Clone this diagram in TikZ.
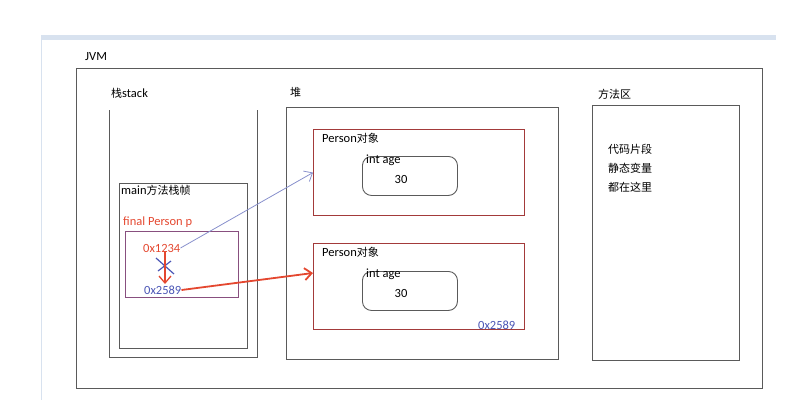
\documentclass[tikz,border=0pt]{standalone}
\usepackage{fontspec}
\setmainfont{Carlito}
\newfontfamily\cjk[Scale=0.88]{Noto Sans CJK SC}
\usetikzlibrary{arrows.meta,positioning}
\definecolor{frame}{HTML}{5A5A5A}
\definecolor{objred}{HTML}{A33A3A}
\definecolor{addrred}{HTML}{E4472F}
\definecolor{addrblue}{HTML}{4A55B5}
\definecolor{refblue}{HTML}{8890CC}
\definecolor{barblue}{HTML}{D8E2EF}
\tikzset{
  box/.style={draw=frame, line width=0.9pt},
  objbox/.style={draw=objred, line width=1.1pt, anchor=north west, inner sep=0pt,
    minimum width=211pt, minimum height=86pt},
  field/.style={draw=frame, line width=0.9pt, rounded corners=9pt, anchor=north west,
    inner sep=0pt, minimum width=95pt, minimum height=39pt},
  lbl/.style={anchor=west, inner sep=0pt, font=\fontsize{12.5}{14}\selectfont},
  barb/.style={-{Straight Barb[length=7pt,width=12pt]}},
}
\begin{document}
\begin{tikzpicture}[x=1pt,y=-1pt]
\useasboundingbox (0,0) rectangle (800,400);
% window edge
\fill[barblue] (41,35) rectangle (776,40);
\draw[barblue, line width=1pt] (41,35) -- (41,400);
\node[lbl] (jvm) at (85,57) {JVM};
\draw[box] (76,68) rectangle (762,388);
% stack
\node[lbl] (stacklbl) at (111,93) {{\cjk 栈}stack};
\draw[box] (109,110) -- (109,357) -- (257,357) -- (257,110);
\draw[box] (119,183) rectangle (247,348);
\node[lbl] (framelbl) at (121,190) {main{\cjk 方法栈帧}};
\node[lbl, text=addrred] (pvar) at (123,222) {final Person p};
\draw[draw=addrblue!60!addrred, line width=0.9pt] (125,231) rectangle (238,297);
\node[lbl, text=addrred] (old) at (143,248) {0x1234};
\node[lbl, text=addrblue] (new) at (144,290) {0x2589};
\draw[addrblue, line width=1.2pt] (156,258) -- (174,274) (158,271) -- (171,261);
\draw[addrred, line width=1.3pt, barb] (165,252) -- (165,284);
% heap
\node[lbl] (heaplbl) at (290,92) {\cjk 堆};
\draw[box] (286,107) rectangle (558,359);
\node[objbox] (obj1) at (313,129) {};
\node[lbl] (obj1lbl) at (322,138) {Person{\cjk 对象}};
\node[field] (age1) at (362,156) {};
\node[lbl] (age1lbl) at (366,160) {int age};
\node[lbl, anchor=center] (val1) at (401,179) {30};
\node[objbox] (obj2) at (313,243) {};
\node[lbl] (obj2lbl) at (322,252) {Person{\cjk 对象}};
\node[field] (age2) at (362,271) {};
\node[lbl] (age2lbl) at (366,274) {int age};
\node[lbl, anchor=center] (val2) at (401,293) {30};
\node[lbl, text=addrblue] (addr2) at (478,325) {0x2589};
\coordinate (hit2) at (313,273);
% references
\draw[refblue, line width=0.8pt, barb] (old.east) -- (obj1.west);
\draw[addrred, line width=1.8pt, barb] (new.east) -- (hit2);
% method area
\node[lbl] (methlbl) at (598,94) {\cjk 方法区};
\draw[box] (592,105) rectangle (739,360);
\node[lbl] (code) at (608,149) {\cjk 代码片段};
\node[lbl] (static) at (608,168) {\cjk 静态变量};
\node[lbl] (here) at (608,187) {\cjk 都在这里};
\end{tikzpicture}
\end{document}
